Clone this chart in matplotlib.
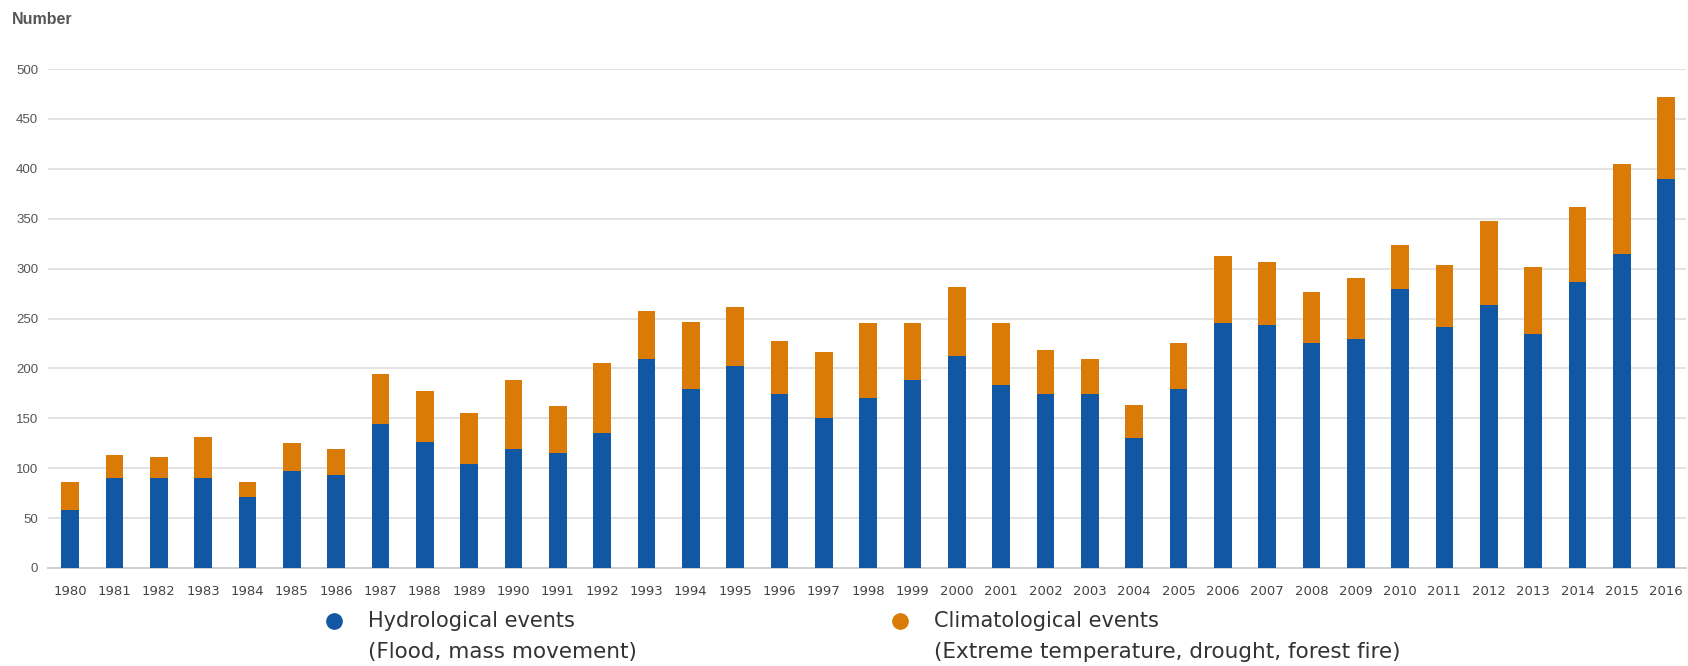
import numpy as np
import matplotlib.pyplot as plt
from matplotlib.lines import Line2D

plt.close('all')

#%% Data
years = [str(y) for y in range(1980, 2017)]

# Hydrological events (flood, mass movement)
hydro = [58, 90, 90, 90, 71, 97, 93, 144, 126, 104, 119, 115, 135, 209, 179,
         202, 174, 150, 170, 188, 212, 183, 174, 174, 130, 179, 245, 243, 225,
         229, 280, 241, 264, 234, 287, 315, 390]

# Climatological events (extreme temperature, drought, forest fire)
clim = [28, 23, 21, 41, 15, 28, 26, 50, 51, 51, 69, 47, 70, 49, 67, 60, 53,
        66, 75, 57, 70, 62, 44, 35, 33, 46, 68, 64, 52, 62, 44, 63, 84, 68,
        75, 90, 82]

yticks = [0, 50, 100, 150, 200, 250, 300, 350, 400, 450, 500]

blue = '#1257a3'
orange = '#d97b06'
grid_col = '#e3e3e3'
txt_col = '#555555'

#%% Figure
fig = plt.figure(figsize=(16.88, 6.66), dpi=100)
ax = fig.add_axes([48/1688, 98/666, (1686-48)/1688, (568-69)/666])

x = np.arange(len(years))
ax.bar(x, hydro, width=0.4, color=blue, zorder=3)
ax.bar(x, clim, width=0.4, bottom=hydro, color=orange, zorder=3)

ax.set_xlim(-0.5, 36.45)
ax.set_ylim(0, 500)
ax.set_yticks(yticks)
ax.set_yticklabels([str(v) for v in yticks], fontsize=9.5, color=txt_col,
                   family='Liberation Sans')
ax.set_xticks(x)
ax.set_xticklabels(years, fontsize=9.5, color='#444444', family='DejaVu Sans')
ax.tick_params(axis='both', length=0)
ax.tick_params(axis='y', pad=7)
ax.tick_params(axis='x', pad=12)

ax.grid(axis='y', color=grid_col, linewidth=1.4, zorder=0)
for s in ['top', 'right', 'left']:
    ax.spines[s].set_visible(False)
ax.spines['bottom'].set_color('#cfcfcf')
ax.spines['bottom'].set_linewidth(1.4)

fig.text(12/1688, 1 - 19/666, 'Number', fontsize=11.5, color=txt_col,
         fontweight='bold', family='Liberation Sans', va='center', ha='left')

#%% Legend (two entries, two lines each)
def legend_entry(xm, xt, label, sub, col):
    fig.add_artist(Line2D([xm/1688], [1 - 621/666], marker='o', markersize=11,
                          color=col, linestyle='none', transform=fig.transFigure))
    fig.text(xt/1688, 1 - 621/666, label, fontsize=15, color='#333333',
             family='DejaVu Sans', va='center', ha='left')
    fig.text(xt/1688, 1 - 652/666, sub, fontsize=15.5, color='#333333',
             family='DejaVu Sans', va='center', ha='left')

legend_entry(334, 368, 'Hydrological events', '(Flood, mass movement)', blue)
legend_entry(900, 934, 'Climatological events',
             '(Extreme temperature, drought, forest fire)', orange)

fig.savefig('out.png', dpi=100)
